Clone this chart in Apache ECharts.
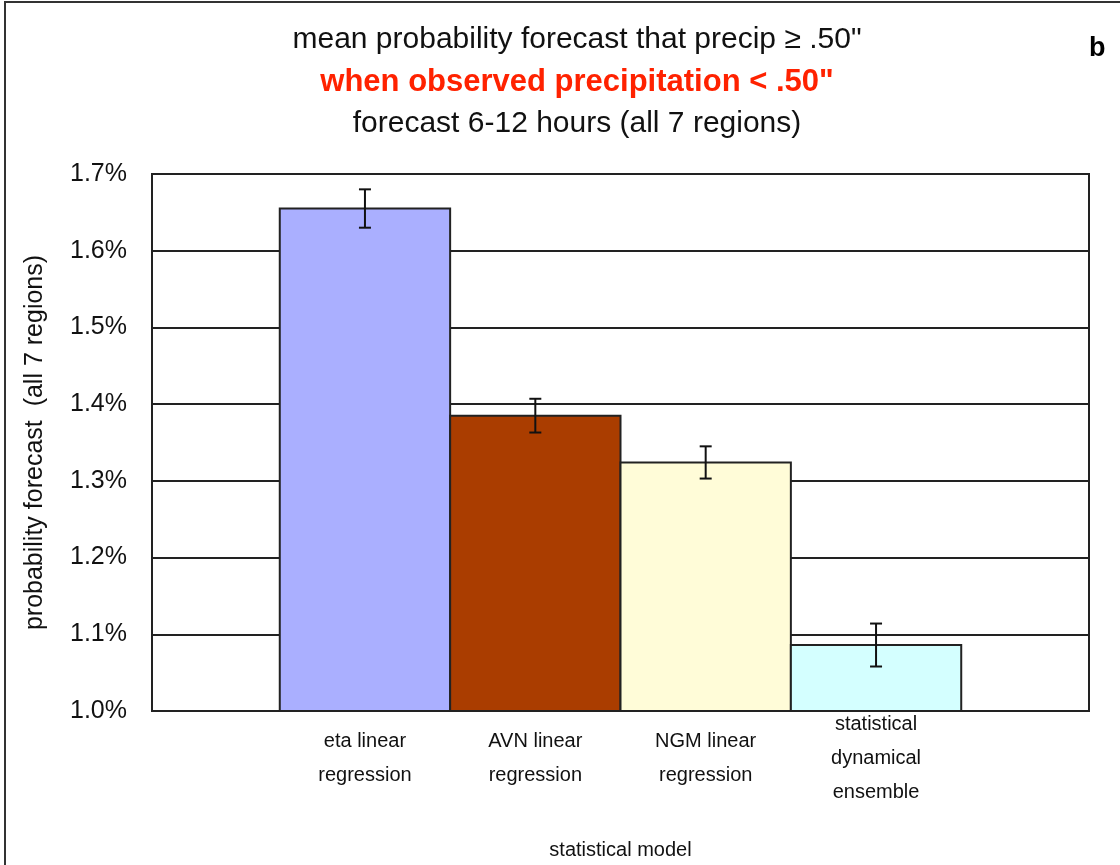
<!DOCTYPE html>
<html>
<head>
<meta charset="utf-8">
<script src="https://cdn.jsdelivr.net/npm/echarts@6/dist/echarts.min.js"></script>
<style>
  html, body { margin: 0; padding: 0; background: #fff; }
  #frame { position: absolute; left: 4px; top: 1px; width: 1130px; height: 880px; border: 2px solid #333; box-sizing: border-box; }
  #chart { position: absolute; left: 0; top: 0; width: 1120px; height: 865px; }
</style>
</head>
<body>
<div id="frame"></div>
<div id="chart"></div>
<script>
// Mean probability forecast (%) per statistical model, with error-bar half widths
const models = [
  'eta linear\nregression',
  'AVN linear\nregression',
  'NGM linear\nregression',
  'statistical\ndynamical\nensemble'
];
const means = [1.655, 1.385, 1.324, 1.086];
const errors = [0.025, 0.022, 0.021, 0.028];
const barColors = ['#AAAFFF', '#AA3D00', '#FFFCD8', '#D4FFFF'];
const yTicks = { min: 1.0, max: 1.7, step: 0.1 };

const FONT = '"Liberation Sans", Arial, sans-serif';
const chart = echarts.init(document.getElementById('chart'));

const data = models.map((m, i) => [i, means[i], errors[i]]);

chart.setOption({
  backgroundColor: 'transparent',
  animation: false,
  title: [{
    left: 572,
    top: 14,
    textAlign: 'center',
    text: '{a|mean probability forecast that precip ≥ .50"}\n{b|when observed precipitation < .50"}\n{a|forecast 6-12 hours (all 7 regions)}',
    textStyle: {
      rich: {
        a: { fontFamily: FONT, fontSize: 30, fontWeight: 'normal', color: '#111', lineHeight: 42 },
        b: { fontFamily: FONT, fontSize: 31, fontWeight: 'bold', color: '#FF2200', lineHeight: 42 }
      }
    }
  }, {
    left: 1084,
    top: 30,
    text: 'b',
    textStyle: { fontFamily: FONT, fontSize: 27, fontWeight: 'bold', color: '#000' }
  }],
  grid: {
    left: 152, right: 31, top: 174, bottom: 152,
    show: true, borderColor: '#222', borderWidth: 2, backgroundColor: '#fff'
  },
  xAxis: {
    type: 'value',
    min: -1.25,
    max: 4.25,
    name: 'statistical model',
    nameLocation: 'middle',
    nameGap: 129,
    nameTextStyle: { fontFamily: FONT, fontSize: 20, color: '#111' },
    axisLine: { show: false },
    axisTick: { show: false },
    axisLabel: { show: false },
    splitLine: { show: false }
  },
  yAxis: {
    type: 'value',
    min: yTicks.min,
    max: yTicks.max,
    interval: yTicks.step,
    name: 'probability forecast  (all 7 regions)',
    nameLocation: 'middle',
    nameGap: 104,
    nameTextStyle: { fontFamily: FONT, fontSize: 25, color: '#111' },
    axisLine: { show: false },
    axisTick: { show: false },
    axisLabel: {
      fontFamily: FONT, fontSize: 25, color: '#111', margin: 25,
      padding: [5, 0, 0, 0],
      formatter: v => v.toFixed(1) + '%'
    },
    splitLine: { lineStyle: { color: '#222', width: 2 } }
  },
  series: [{
    type: 'custom',
    clip: false,
    data: data,
    renderItem: (params, api) => {
      const i = api.value(0);
      const v = api.value(1);
      const e = api.value(2);
      const tl = api.coord([i - 0.5, v]);
      const br = api.coord([i + 0.5, yTicks.min]);
      const hi = api.coord([i, v + e]);
      const lo = api.coord([i, v - e]);
      const cap = 6;
      const bar = { stroke: '#111', lineWidth: 2 };
      return {
        type: 'group',
        children: [{
          type: 'rect',
          shape: { x: tl[0], y: tl[1], width: br[0] - tl[0], height: br[1] - tl[1] },
          style: { fill: barColors[i], stroke: '#222', lineWidth: 2 }
        }, {
          type: 'line',
          shape: { x1: hi[0], y1: hi[1], x2: lo[0], y2: lo[1] },
          style: bar
        }, {
          type: 'line',
          shape: { x1: hi[0] - cap, y1: hi[1], x2: hi[0] + cap, y2: hi[1] },
          style: bar
        }, {
          type: 'line',
          shape: { x1: lo[0] - cap, y1: lo[1], x2: lo[0] + cap, y2: lo[1] },
          style: bar
        }, {
          type: 'text',
          x: (tl[0] + br[0]) / 2,
          y: br[1] + 47,
          style: {
            text: models[i],
            fontFamily: FONT, fontSize: 20, fill: '#111',
            lineHeight: 34, align: 'center', verticalAlign: 'middle'
          }
        }]
      };
    }
  }]
});
</script>
</body>
</html>
